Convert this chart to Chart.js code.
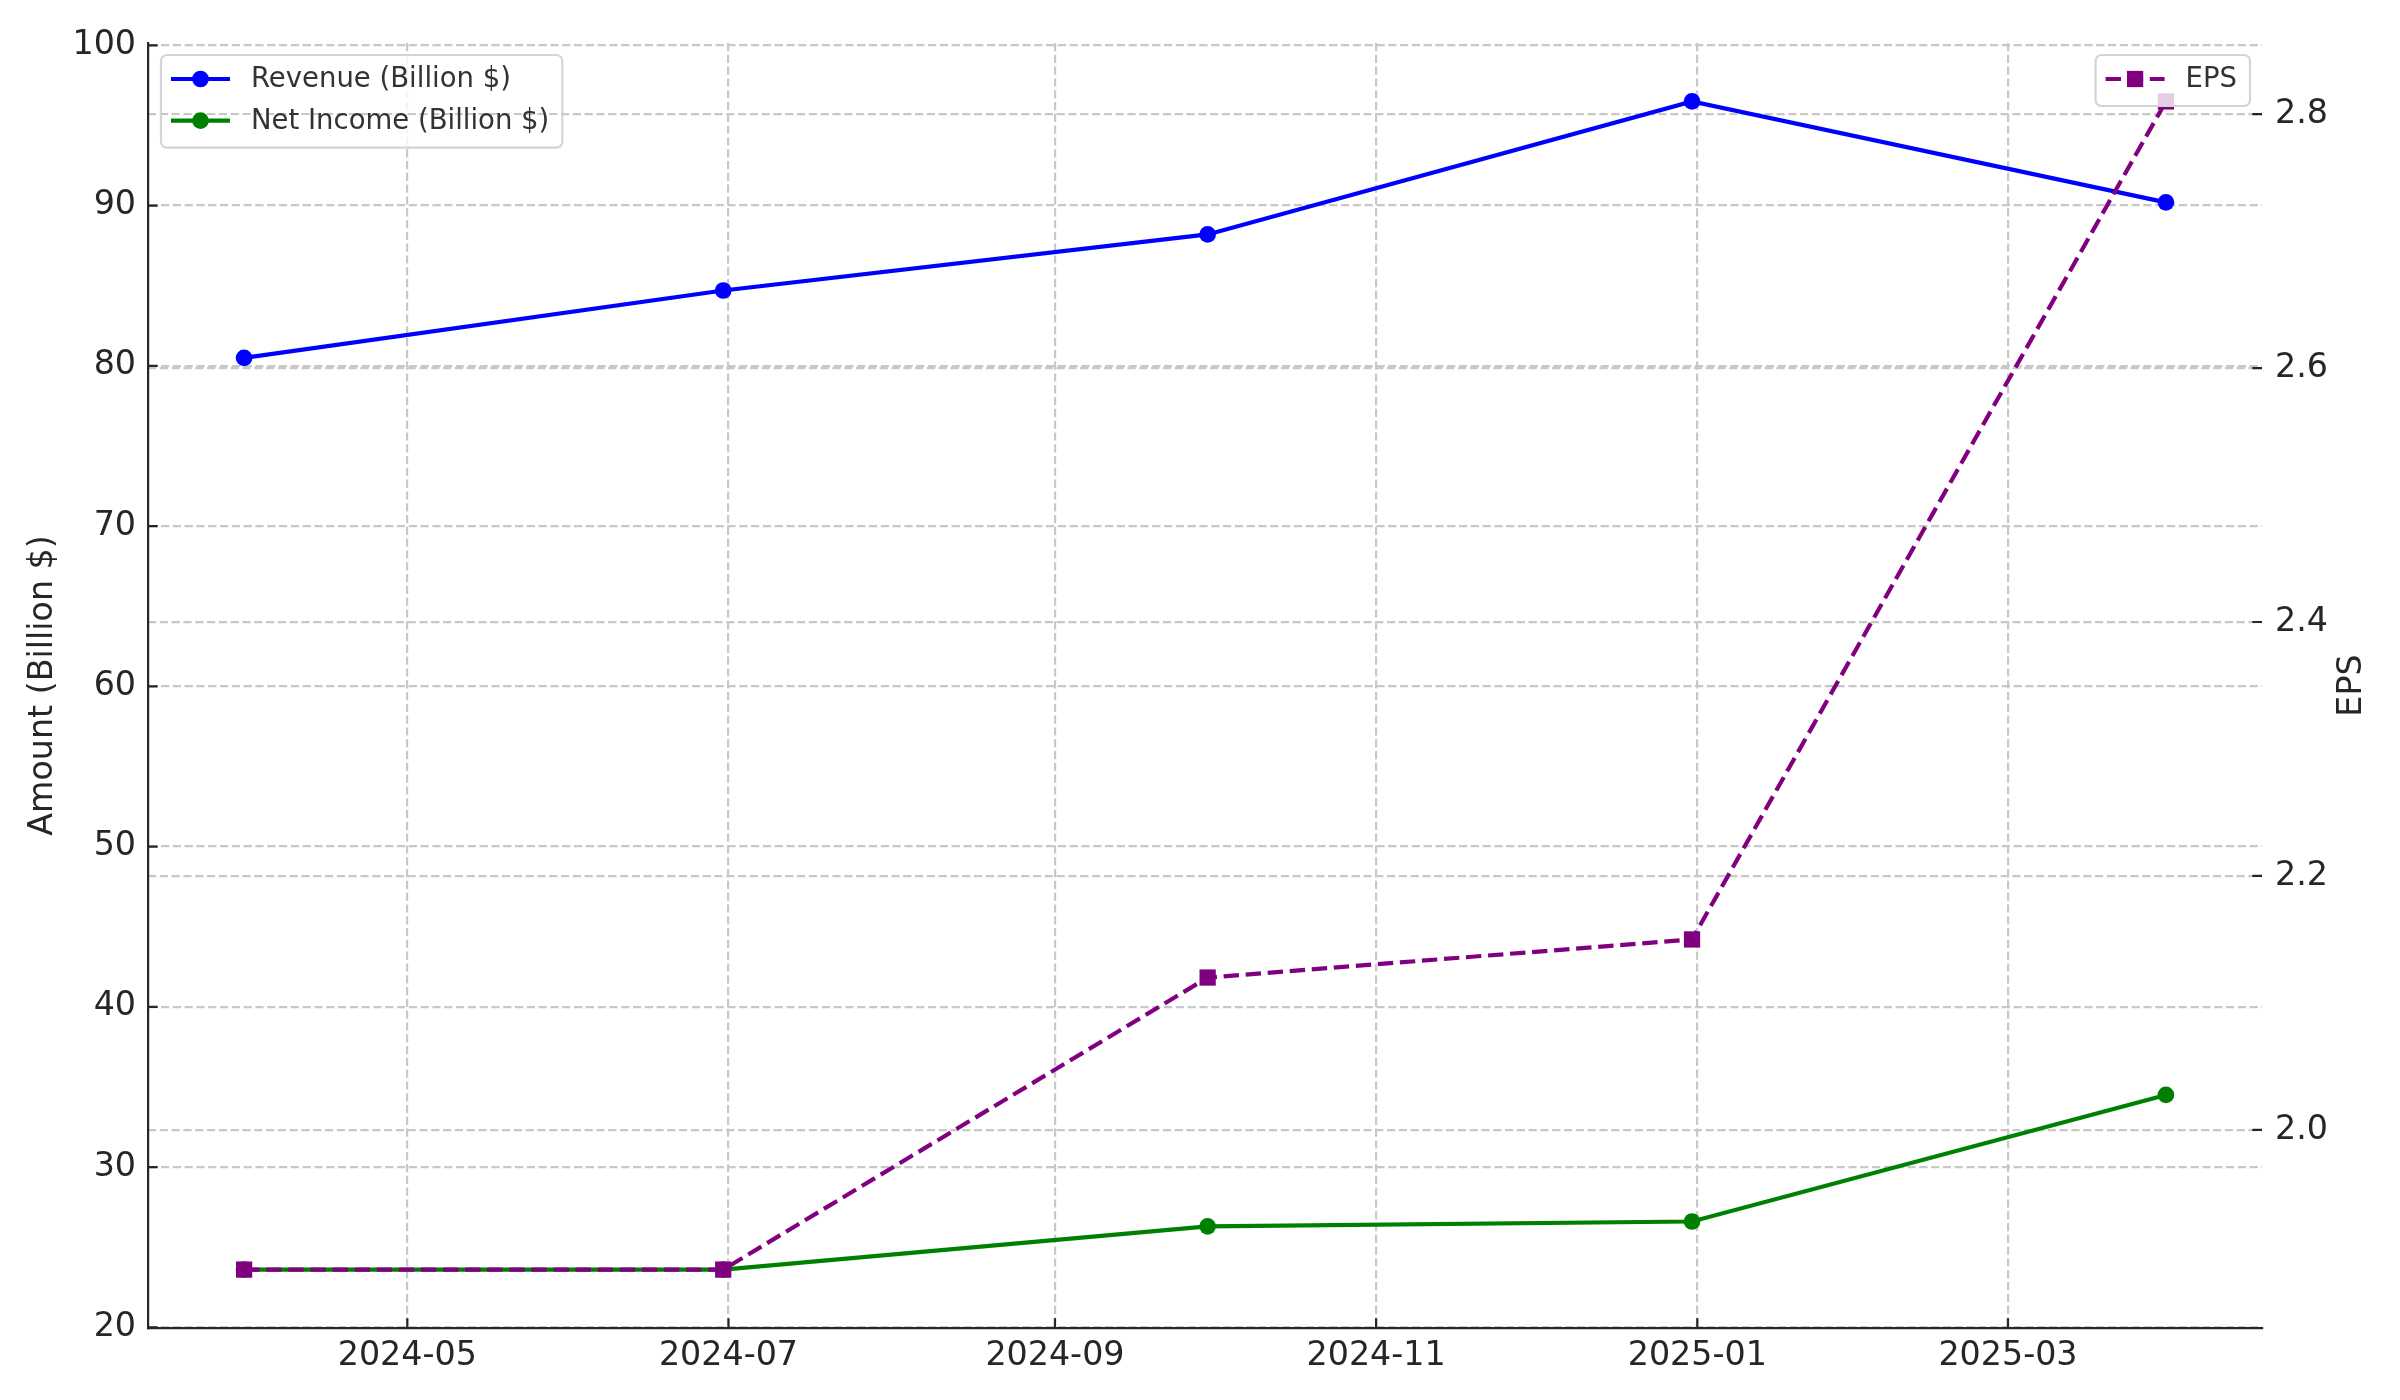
<!DOCTYPE html>
<html><head><meta charset="utf-8">
<script src="https://cdn.jsdelivr.net/npm/chart.js@4.4.1/dist/chart.umd.min.js"></script>
<style>html,body{margin:0;padding:0;background:#fff}canvas{display:block}</style>
</head><body>
<canvas id="c" width="2400" height="1400"></canvas>
<script>
// ---- data ----
const dates = ['2024-03-31', '2024-06-30', '2024-09-30', '2024-12-31', '2025-03-31'];
const revenue = [80.5, 84.7, 88.2, 96.5, 90.2];
const netIncome = [23.6, 23.6, 26.3, 26.6, 34.5];
const eps = [1.89, 1.89, 2.12, 2.15, 2.81];
const xTickLabels = ['2024-05', '2024-07', '2024-09', '2024-11', '2025-01', '2025-03'];
const yTicks = [20, 30, 40, 50, 60, 70, 80, 90, 100];
const y2Ticks = [2.0, 2.2, 2.4, 2.6, 2.8];
const seriesLabels = ['Revenue (Billion $)', 'Net Income (Billion $)', 'EPS'];
const yTitle = 'Amount (Billion $)';
const y2Title = 'EPS';

// ---- helpers ----
const DAY = 86400000;
const toDay = s => { const [y, m, d] = s.split('-').map(Number); return Date.UTC(y, m - 1, d) / DAY; };
const pad5 = arr => { const lo = Math.min(...arr), hi = Math.max(...arr), m = (hi - lo) * 0.05; return [lo - m, hi + m]; };
const xs = dates.map(toDay);
const [xMin, xMax] = pad5(xs);
const [yMin, yMax] = pad5(revenue.concat(netIncome));
const [y2Min, y2Max] = pad5(eps);
const pts = vals => vals.map((v, i) => ({ x: xs[i], y: v }));

const FONT = 'DejaVu Sans';
const TXT = '#262626';
const GRID = '#c8c8c8';
const GRID_DASH = [8.2, 3.6];
const LW = 4.2;

function drawLegend(chart, side, overlayGrid) {
  const ctx = chart.ctx, a = chart.chartArea;
  const items = chart.data.datasets.filter(d => d.legendSide === side);
  if (!items.length) return;
  const fs = 27.5;
  ctx.save();
  ctx.font = fs + 'px "' + FONT + '"';
  const tw = Math.max(...items.map(d => ctx.measureText(d.label).width));
  const rowH = 41.7;
  const w = 90 + tw + 13;
  const h = 24 + (items.length - 1) * rowH + 27;
  const bx = side === 'left' ? a.left + 13 : a.right - 12 - w;
  const by = a.top + 12;
  ctx.beginPath();
  ctx.roundRect(bx, by, w, h, 6);
  ctx.fillStyle = 'rgba(255,255,255,0.8)';
  ctx.fill();
  ctx.lineWidth = 2.2;
  ctx.strokeStyle = '#d4d4d4';
  ctx.stroke();
  if (overlayGrid) {
    // the EPS axis grid is drawn above the left-axis legend
    const sy2 = chart.scales.y2;
    ctx.save();
    ctx.beginPath(); ctx.rect(bx, by, w, h); ctx.clip();
    ctx.strokeStyle = GRID; ctx.lineWidth = 2.2; ctx.setLineDash(GRID_DASH);
    sy2.ticks.forEach(t => {
      const p = Math.round(sy2.getPixelForValue(t.value));
      ctx.beginPath(); ctx.moveTo(a.left, p); ctx.lineTo(a.right, p); ctx.stroke();
    });
    ctx.restore();
  }
  items.forEach((d, i) => {
    const cy = by + 24 + i * rowH;
    const x0 = bx + 10, x1 = bx + 69, cx = (x0 + x1) / 2;
    ctx.save();
    ctx.strokeStyle = d.borderColor;
    ctx.lineWidth = d.borderWidth;
    ctx.setLineDash(d.borderDash || []);
    ctx.beginPath(); ctx.moveTo(x0, cy); ctx.lineTo(x1, cy); ctx.stroke();
    ctx.setLineDash([]);
    ctx.fillStyle = d.pointBackgroundColor;
    ctx.beginPath();
    if (d.pointStyle === 'rect') {
      const s = d.pointRadius * Math.SQRT1_2;
      ctx.rect(cx - s, cy - s, 2 * s, 2 * s);
    } else {
      ctx.arc(cx, cy, d.pointRadius, 0, Math.PI * 2);
    }
    ctx.fill();
    ctx.restore();
    ctx.fillStyle = '#333';
    ctx.textAlign = 'left';
    ctx.textBaseline = 'middle';
    ctx.fillText(d.label, bx + 90, cy + 1);
  });
  ctx.restore();
}

const decor = {
  id: 'decor',
  beforeDatasetsDraw(chart) {
    const ctx = chart.ctx, a = chart.chartArea;
    const sx = chart.scales.x, sy = chart.scales.y, sy2 = chart.scales.y2;
    drawLegend(chart, 'left', true);
    // inward tick marks
    ctx.save();
    ctx.strokeStyle = TXT; ctx.lineWidth = 2.2; ctx.setLineDash([]);
    const L = 9.7;
    ctx.beginPath();
    sx.ticks.forEach(t => { const p = sx.getPixelForValue(t.value); ctx.moveTo(p, a.bottom); ctx.lineTo(p, a.bottom - L); });
    sy.ticks.forEach(t => { const p = sy.getPixelForValue(t.value); ctx.moveTo(a.left, p); ctx.lineTo(a.left + L, p); });
    sy2.ticks.forEach(t => { const p = sy2.getPixelForValue(t.value); ctx.moveTo(a.right, p); ctx.lineTo(a.right - L, p); });
    ctx.stroke();
    ctx.restore();
  },
  afterDatasetsDraw(chart) {
    drawLegend(chart, 'right', false);
  },
  afterDraw(chart) {
    const ctx = chart.ctx, a = chart.chartArea;
    ctx.save();
    ctx.font = '33.3px "' + FONT + '"';
    ctx.fillStyle = TXT;
    ctx.textAlign = 'center';
    ctx.textBaseline = 'middle';
    ctx.translate(chart.width - 48, (a.top + a.bottom) / 2);
    ctx.rotate(-Math.PI / 2);
    ctx.fillText(y2Title, 0, 0);
    ctx.restore();
  }
};

const tickFont = { family: FONT, size: 33.3 };

new Chart(document.getElementById('c'), {
  type: 'line',
  data: {
    datasets: [
      { label: seriesLabels[0], data: pts(revenue), yAxisID: 'y', legendSide: 'left',
        borderColor: '#0000ff', backgroundColor: '#0000ff', pointBackgroundColor: '#0000ff',
        borderWidth: LW, pointRadius: 8.35, pointBorderWidth: 0, pointStyle: 'circle', order: 2, tension: 0 },
      { label: seriesLabels[1], data: pts(netIncome), yAxisID: 'y', legendSide: 'left',
        borderColor: '#008000', backgroundColor: '#008000', pointBackgroundColor: '#008000',
        borderWidth: LW, pointRadius: 8.35, pointBorderWidth: 0, pointStyle: 'circle', order: 1, tension: 0 },
      { label: seriesLabels[2], data: pts(eps), yAxisID: 'y2', legendSide: 'right',
        borderColor: '#800080', backgroundColor: '#800080', pointBackgroundColor: '#800080',
        borderWidth: LW, borderDash: [15.4, 6.7], pointRadius: 11.5, pointBorderWidth: 0, pointStyle: 'rect', order: 0, tension: 0 }
    ]
  },
  options: {
    responsive: false,
    animation: false,
    devicePixelRatio: 1,
    events: [],
    layout: { padding: { top: 43, left: 0, right: 0, bottom: 0 } },
    plugins: { legend: { display: false }, tooltip: { enabled: false } },
    scales: {
      x: {
        type: 'linear', min: xMin, max: xMax,
        afterBuildTicks: s => { s.ticks = xTickLabels.map(l => ({ value: toDay(l + '-01') })); },
        afterFit: s => { s.height = 72; },
        ticks: { callback: (v, i) => xTickLabels[i], font: tickFont, color: TXT, padding: 8, autoSkip: false, maxRotation: 0, minRotation: 0 },
        grid: { color: GRID, lineWidth: 2.2, drawTicks: false },
        border: { display: true, color: TXT, width: 2.2, dash: GRID_DASH, z: 1 }
      },
      y: {
        type: 'linear', position: 'left', min: yMin, max: yMax,
        afterBuildTicks: s => { s.ticks = yTicks.map(v => ({ value: v })); },
        afterFit: s => { s.width = 148; },
        ticks: { callback: (v, i) => String(yTicks[i]), font: tickFont, color: TXT, padding: 12 },
        grid: { color: GRID, lineWidth: 2.2, drawTicks: false },
        border: { display: true, color: TXT, width: 2.2, dash: GRID_DASH, z: 1 },
        title: { display: true, text: yTitle, font: tickFont, color: TXT, padding: { top: 23, bottom: 0 } }
      },
      y2: {
        type: 'linear', position: 'right', min: y2Min, max: y2Max,
        afterBuildTicks: s => { s.ticks = y2Ticks.map(v => ({ value: v })); },
        afterFit: s => { s.width = 138; },
        ticks: { callback: (v, i) => y2Ticks[i].toFixed(1), font: tickFont, color: TXT, padding: 13 },
        grid: { color: GRID, lineWidth: 2.2, drawTicks: false, drawOnChartArea: true },
        border: { display: false, dash: GRID_DASH }
      }
    }
  },
  plugins: [decor]
});
</script>
</body></html>
